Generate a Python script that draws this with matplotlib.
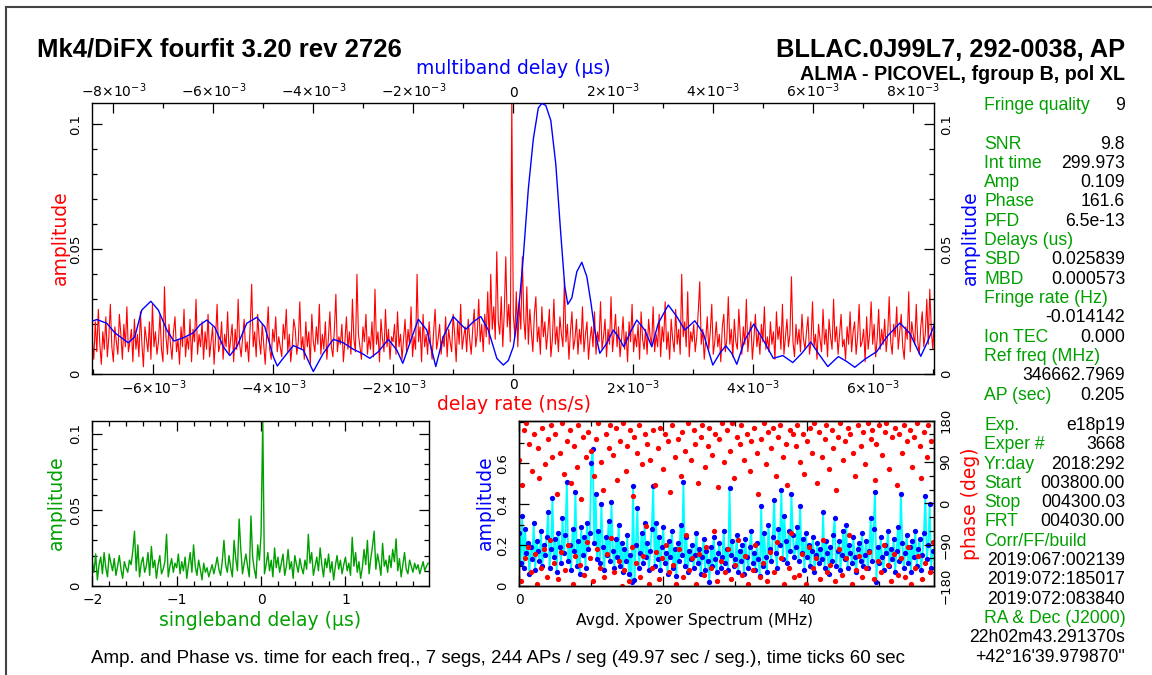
import numpy as np
import matplotlib
matplotlib.use("Agg")
import matplotlib.pyplot as plt
from matplotlib.ticker import FixedLocator, MultipleLocator, FuncFormatter
from matplotlib.lines import Line2D

# ------------------------------------------------------------------ data
# Delay-rate amplitude spectrum, units of 1e-3, evenly spaced across the rate window
rate_amp_milli = [
    14, 6, 21, 9, 26, 12, 4, 17, 10, 23, 7, 15, 28, 11, 5, 19, 13, 8, 24, 16, 6, 20, 11, 27, 9,
    13, 18, 5, 22, 10, 16, 7, 25, 12, 3, 19, 14, 9, 21, 6, 28, 11, 17, 8, 13, 24, 10, 5, 35, 15,
    8, 20, 12, 6, 17, 23, 9, 14, 4, 19, 11, 26, 7, 15, 10, 22, 5, 18, 13, 30, 8, 16, 11, 21, 6,
    17, 10, 24, 7, 13, 19, 4, 15, 28, 9, 12, 21, 6, 16, 11, 25, 8, 14, 20, 5, 18, 10, 30, 12, 7,
    15, 22, 9, 13, 5, 19, 36, 11, 17, 7, 24, 14, 8, 20, 12, 4, 16, 27, 10, 6, 18, 13, 23, 9, 15,
    11, 7, 20, 14, 26, 9, 16, 5, 12, 22, 18, 8, 13, 29, 10, 15, 6, 21, 11, 17, 4, 24, 13, 9, 19,
    12, 28, 8, 16, 10, 21, 6, 14, 25, 11, 7, 18, 32, 9, 15, 12, 20, 5, 13, 23, 10, 17, 8, 30, 14,
    9, 40, 16, 11, 6, 19, 13, 24, 8, 15, 10, 21, 7, 34, 12, 17, 5, 22, 14, 9, 26, 11, 18, 6, 15,
    13, 20, 8, 25, 11, 16, 6, 14, 22, 9, 18, 12, 27, 7, 15, 10, 40, 13, 19, 5, 24, 11, 16, 8, 21,
    12, 6, 17, 26, 10, 14, 20, 8, 15, 11, 23, 7, 18, 13, 9, 24, 16, 5, 21, 12, 28, 10, 15, 19, 9,
    22, 14, 8, 18, 26, 11, 16, 30, 13, 20, 9, 24, 15, 33, 12, 40, 18, 27, 14, 49, 21, 16, 31, 11, 25,
    47, 19, 28, 13, 109, 24, 15, 33, 11, 29, 18, 47, 22, 14, 35, 12, 26, 17, 9, 24, 31, 13, 19, 8, 27,
    15, 21, 10, 17, 26, 7, 14, 30, 12, 19, 9, 23, 16, 11, 38, 13, 20, 6, 17, 25, 10, 14, 22, 8, 18,
    12, 27, 9, 16, 21, 6, 14, 19, 11, 25, 8, 17, 13, 29, 10, 15, 22, 7, 18, 12, 31, 9, 16, 24, 11,
    19, 7, 14, 23, 10, 17, 5, 21, 13, 28, 9, 16, 11, 20, 6, 25, 14, 10, 18, 8, 22, 15, 12, 27, 9,
    16, 11, 24, 7, 19, 13, 29, 10, 17, 6, 22, 14, 9, 26, 12, 18, 8, 40, 15, 21, 11, 33, 7, 17, 13,
    20, 9, 15, 25, 37, 12, 18, 6, 14, 23, 10, 17, 28, 8, 13, 21, 11, 16, 5, 19, 24, 9, 14, 31, 12,
    18, 7, 22, 13, 10, 26, 15, 8, 19, 12, 30, 9, 16, 21, 6, 14, 24, 11, 17, 8, 20, 13, 27, 10, 15,
    9, 21, 12, 17, 6, 25, 14, 19, 10, 28, 8, 15, 22, 11, 16, 39, 13, 7, 20, 12, 18, 9, 24, 14, 10,
    17, 23, 8, 13, 29, 11, 16, 6, 20, 14, 9, 26, 12, 18, 7, 22, 15, 10, 30, 13, 19, 8, 16, 24, 11,
    14, 6, 19, 12, 25, 9, 17, 21, 8, 15, 28, 11, 13, 18, 5, 23, 10, 16, 29, 12, 20, 7, 14, 26, 10,
    18, 12, 22, 9, 16, 31, 13, 8, 20, 15, 27, 10, 17, 24, 11, 6, 19, 14, 33, 9, 21, 16, 12, 28, 13,
    8, 19, 25, 11, 16, 30, 12, 34, 18, 10, 21,
]
rate_half_window = 7.017e-3     # ns/s
mbd_half_window = 8.42e-3       # us
amp_top = 0.1086

# Multiband delay function: delay in ns, amplitude in units of 1e-3
mbd_ns = [
    -8.40, -8.33, -8.13, -7.97, -7.70, -7.57, -7.43, -7.25, -7.10, -6.93,
    -6.79, -6.60, -6.40, -6.27, -6.13, -5.97, -5.80, -5.67, -5.53, -5.33,
    -5.13, -4.97, -4.80, -4.72, -4.63, -4.40, -4.20, -4.00, -3.80, -3.60,
    -3.40, -3.20, -3.03, -2.87, -2.70, -2.50, -2.33, -2.21, -2.07, -1.90,
    -1.73, -1.55, -1.40, -1.20, -1.07, -0.95, -0.80, -0.65, -0.50, -0.33,
    -0.20, -0.10, 0.00, 0.07, 0.13, 0.20, 0.30, 0.40, 0.50, 0.57,
    0.65, 0.75, 0.85, 0.95, 1.03, 1.09, 1.17, 1.27, 1.37, 1.47,
    1.55, 1.63, 1.73, 1.87, 2.00, 2.10, 2.21, 2.33, 2.47, 2.63,
    2.77, 2.90, 3.10, 3.27, 3.43, 3.63, 3.80, 3.99, 4.13, 4.25,
    4.37, 4.47, 4.63, 4.81, 5.00, 5.20, 5.39, 5.59, 5.77, 5.95,
    6.10, 6.29, 6.50, 6.67, 6.83, 7.03, 7.27, 7.47, 7.73, 7.93,
    8.15, 8.30, 8.42,
]
mbd_amp_milli = [
    21.4, 21.9, 20.4, 16.6, 12.6, 15.0, 25.7, 29.2, 25.7, 17.7,
    13.3, 14.6, 16.6, 19.7, 21.7, 18.8, 11.0, 7.5, 11.0, 20.4,
    22.8, 19.0, 7.0, 3.3, 5.7, 11.5, 9.7, 1.1, 8.4, 14.0,
    12.6, 10.0, 8.4, 6.4, 9.0, 14.0, 9.7, 4.4, 12.4, 22.0,
    17.7, 3.1, 15.0, 23.1, 20.4, 18.0, 21.0, 23.1, 17.7, 6.4,
    3.7, 5.5, 11.0, 20.4, 31.0, 47.0, 74.0, 94.0, 106.5, 108.3,
    107.5, 101.5, 84.0, 56.0, 35.0, 28.0, 30.5, 41.0, 44.8, 39.1,
    29.0, 17.5, 8.4, 12.4, 17.7, 15.0, 11.0, 16.4, 21.7, 17.7,
    11.0, 20.4, 27.7, 23.1, 17.7, 21.4, 16.4, 3.7, 8.4, 11.4,
    8.4, 4.0, 13.7, 20.1, 13.7, 6.4, 7.5, 4.7, 8.4, 12.9,
    8.4, 3.1, 7.1, 5.1, 2.8, 6.0, 9.1, 15.0, 20.5, 16.4,
    7.2, 13.7, 19.7,
]

# Singleband delay function, units of 1e-3, from -2 us in steps of 0.02 us
sbd_amp_milli = [
    16, 9, 21, 4, 14, 19, 8, 22, 12, 6, 21, 15, 10, 18, 7, 13, 20, 11, 5, 16, 12, 9, 17, 14, 23,
    36, 10, 27, 6, 15, 19, 9, 13, 22, 7, 26, 12, 17, 5, 14, 20, 8, 11, 16, 34, 6, 13, 18, 9, 15,
    12, 21, 8, 16, 10, 19, 5, 14, 22, 9, 27, 13, 7, 17, 11, 4, 15, 9, 12, 6, 10, 14, 8, 13, 19,
    11, 7, 16, 30, 14, 9, 20, 12, 6, 30, 18, 10, 44, 24, 8, 15, 21, 13, 6, 46, 19, 11, 5, 27, 17,
    34, 109, 8, 14, 22, 10, 17, 6, 25, 12, 19, 9, 15, 21, 7, 13, 24, 11, 16, 5, 20, 14, 9, 18, 12,
    8, 17, 11, 34, 15, 22, 7, 13, 19, 10, 25, 14, 6, 18, 12, 21, 9, 16, 4, 13, 20, 11, 17, 8, 14,
    19, 10, 15, 7, 32, 13, 22, 9, 16, 5, 12, 24, 14, 30, 8, 18, 26, 36, 11, 21, 15, 7, 28, 13, 17,
    9, 20, 12, 24, 16, 31, 10, 18, 6, 14, 22, 11, 8, 17, 13, 9, 15, 11, 14, 8, 12, 16, 10, 13, 15,
]
sbd_start_us = -2.0
sbd_step_us = 0.02

# Averaged cross-power spectrum: amplitude (units of 0.01) and phase (deg), 0.2 MHz channels
xp_amp_pct = [
    26, 11, 34, 9, 28, 16, 21, 6, 19, 13, 31, 8, 22, 17, 12, 27, 10, 20, 15, 24, 36, 9, 18, 43,
    14, 23, 7, 26, 19, 11, 33, 16, 25, 51, 12, 20, 8, 28, 17, 46, 10, 22, 6, 29, 15, 24, 9, 31,
    18, 26, 60, 67, 21, 45, 13, 27, 11, 40, 19, 8, 24, 15, 32, 12, 41, 17, 9, 23, 14, 30, 10, 21,
    7, 18, 12, 25, 6, 15, 2, 49, 3, 20, 38, 9, 16, 26, 11, 31, 14, 21, 8, 17, 28, 49, 10, 31,
    13, 24, 8, 19, 29, 11, 16, 6, 22, 14, 27, 9, 18, 5, 21, 12, 30, 15, 51, 10, 24, 7, 17, 13,
    20, 9, 15, 26, 11, 18, 6, 14, 23, 8, 17, 12, 2, 19, 10, 24, 13, 7, 16, 21, 9, 14, 27, 11,
    18, 8, 48, 15, 22, 10, 13, 25, 7, 17, 12, 20, 6, 23, 14, 9, 19, 27, 11, 16, 8, 21, 13, 5,
    39, 10, 26, 14, 7, 30, 18, 12, 24, 42, 16, 9, 28, 20, 47, 13, 34, 22, 11, 27, 17, 45, 25, 14,
    19, 29, 12, 39, 16, 23, 8, 26, 14, 20, 10, 17, 24, 7, 15, 21, 11, 18, 13, 36, 9, 22, 16, 6,
    19, 12, 25, 33, 10, 17, 22, 8, 15, 27, 13, 30, 9, 20, 16, 11, 24, 14, 7, 18, 21, 12, 26, 10,
    15, 22, 9, 17, 33, 12, 28, 46, 2, 19, 11, 24, 14, 8, 20, 16, 27, 10, 18, 13, 23, 7, 17, 29,
    12, 45, 21, 9, 16, 25, 11, 19, 7, 22, 14, 27, 10, 18, 23, 8, 15, 26, 44, 13, 20, 40, 9, 17,
]
xp_phase_deg = [
    95, -170, 40, 160, -120, 175, -95, 130, -150, 70, 150, -110, -175, 120, 55, -140, 165, -100, 85, -160, 140, -80, 170, 100,
    -130, 150, 20, -165, 110, -105, 175, 65, -145, 135, -90, 160, 45, -175, 125, -115, 80, 170, -135, 10, 145, -155, 100, -85,
    155, -120, 115, -170, 60, 140, -100, 175, -140, 90, 30, -160, 150, -110, 120, 170, -75, 105, -150, 165, 50, -125, 135, -180,
    175, -145, 70, 125, -170, 160, -95, 15, 145, -130, 110, 170, -160, 85, -115, 150, -50, 130, -175, 95, -140, 160, 40, -105,
    120, -165, 165, -120, 75, 150, -90, 135, -150, 25, 170, -135, 100, -175, 140, -100, 60, 155, -160, 115, -70, 175, -145, 95,
    -120, 160, 130, -175, 45, -110, 145, 170, -155, 80, -95, 125, 165, -140, 105, -60, 150, -170, 35, 140, -125, 175, 90, -150,
    160, -100, 115, -165, 175, 55, -135, 145, -80, 130, 170, -155, 95, -115, 150, -175, 70, 135, -145, 165, -90, 110, 20, -160,
    140, -130, 175, 85, -170, 155, -105, 120, 165, -150, 60, -85, 145, 170, -120, 100, -175, 130, 40, -140, 160, -65, 150, -160,
    125, 170, -155, 90, -110, 150, 65, -175, 135, -95, 165, 110, -140, 175, -120, 45, 155, -165, 100, -80, 140, 170, -150, 75,
    -135, 160, 120, -170, 30, 145, -100, 175, -155, 95, 135, -120, 165, -70, 150, -175, 110, 60, -145, 170, -115, 125, -160, 155,
    85, -140, 175, -105, 140, 160, -165, 50, 130, -125, 170, -150, 105, -90, 155, 175, -135, 75, -170, 145, -110, 165, 40, -155,
    150, -120, 110, 170, -160, 135, -95, 160, -175, 80, 145, -140, 175, -115, 125, 55, -165, 155, -130, 100, 170, -150, 135, -85,
]
xp_step_mhz = 0.2
xp_max_mhz = 57.6
xp_amp_top = 0.808

# Fit summary: (label, value) per line; two blocks
summary_block1 = [
    ("Fringe quality", "9"), None,
    ("SNR", "9.8"), ("Int time", "299.973"), ("Amp", "0.109"), ("Phase", "161.6"),
    ("PFD", "6.5e-13"), ("Delays (us)", ""), ("SBD", "0.025839"), ("MBD", "0.000573"),
    ("Fringe rate (Hz)", ""), ("", "-0.014142"), ("Ion TEC", "0.000"),
    ("Ref freq (MHz)", ""), ("", "346662.7969"), ("AP (sec)", "0.205"),
]
summary_block2 = [
    ("Exp.", "e18p19"), ("Exper #", "3668"), ("Yr:day", "2018:292"),
    ("Start", "003800.00"), ("Stop", "004300.03"), ("FRT", "004030.00"),
    ("Corr/FF/build", ""), ("", "2019:067:002139"), ("", "2019:072:185017"),
    ("", "2019:072:083840"), ("RA & Dec (J2000)", ""), ("", "22h02m43.291370s"),
    ("", "+42\u00b016'39.979870\""),
]

# ------------------------------------------------------------------ figure
W, H = 1152, 675
fig = plt.figure(figsize=(W / 100, H / 100), dpi=100)
fig.patch.set_facecolor("white")

RED, BLUE, GREEN, CYAN = "#ff0000", "#0000ff", "#00a000", "#00ffff"
TXT = "Liberation Sans"
XTICK_FS = 10
YTICK_FS = 9.5
LAB_FS = 13.5


def rect(x0, y0, x1, y1):
    return [x0 / W, 1 - y1 / H, (x1 - x0) / W, (y1 - y0) / H]


def fx(x):
    return x / W


def fy(y):
    return 1 - y / H


def plain(v, pos):
    s = "%.3g" % v
    if s in ("-0", "0.0", "-0.0"):
        s = "0"
    return s.replace("-", "\u2212")


def sci(v, pos):
    k = int(round(v * 1e3))
    return "0" if k == 0 else r"$%d{\times}10^{-3}$" % k


def base_style(ax):
    ax.tick_params(which="both", direction="in", width=0.9)
    ax.tick_params(axis="x", labelsize=XTICK_FS)
    ax.tick_params(axis="y", labelsize=YTICK_FS)
    ax.tick_params(which="major", length=7)
    ax.tick_params(which="minor", length=3.5)
    for s in ax.spines.values():
        s.set_linewidth(1.0)


def rotate_y(ax, side):
    for lab in ax.get_yticklabels():
        lab.set_rotation(90)
        lab.set_verticalalignment("center")
        lab.set_horizontalalignment("right" if side == "left" else "left")


# ---- main panel: delay rate (red, bottom/left) + multiband delay (blue, top/right)
main_rect = rect(92.3, 102.7, 934.3, 374.3)
ax_r = fig.add_axes(main_rect)
rate_amp = np.array(rate_amp_milli) * 1e-3
rate_x = np.linspace(-rate_half_window, rate_half_window, len(rate_amp))
ax_r.plot(rate_x, rate_amp, color=RED, lw=0.8)
ax_r.set_xlim(-rate_half_window, rate_half_window)
ax_r.set_ylim(0, amp_top)
base_style(ax_r)
ax_r.xaxis.set_major_locator(MultipleLocator(2e-3))
ax_r.xaxis.set_minor_locator(MultipleLocator(1e-3))
ax_r.xaxis.set_major_formatter(FuncFormatter(sci))
ax_r.yaxis.set_major_locator(FixedLocator([0, 0.05, 0.1]))
ax_r.yaxis.set_minor_locator(MultipleLocator(0.01))
ax_r.yaxis.set_major_formatter(FuncFormatter(plain))
ax_r.tick_params(which="both", top=False, right=False)
ax_r.tick_params(axis="x", pad=3)
ax_r.tick_params(axis="y", pad=7)
rotate_y(ax_r, "left")

ax_m = fig.add_axes(main_rect, frameon=False)
ax_m.patch.set_visible(False)
ax_m.plot(np.array(mbd_ns) * 1e-3, np.array(mbd_amp_milli) * 1e-3, color=BLUE, lw=1.0)
ax_m.set_xlim(-mbd_half_window, mbd_half_window)
ax_m.set_ylim(0, amp_top)
base_style(ax_m)
ax_m.xaxis.tick_top()
ax_m.yaxis.tick_right()
ax_m.xaxis.set_major_locator(MultipleLocator(2e-3))
ax_m.xaxis.set_minor_locator(MultipleLocator(1e-3))
ax_m.xaxis.set_major_formatter(FuncFormatter(sci))
ax_m.yaxis.set_major_locator(FixedLocator([0, 0.05, 0.1]))
ax_m.yaxis.set_minor_locator(MultipleLocator(0.01))
ax_m.yaxis.set_major_formatter(FuncFormatter(plain))
ax_m.tick_params(axis="x", pad=2)
ax_m.tick_params(axis="y", pad=4)
rotate_y(ax_m, "right")

# ---- singleband delay panel
ax_s = fig.add_axes(rect(92.3, 420.7, 429.0, 586.0))
sbd_amp = np.array(sbd_amp_milli) * 1e-3
sbd_x = sbd_start_us + sbd_step_us * np.arange(len(sbd_amp))
ax_s.plot(sbd_x, sbd_amp, color=GREEN, lw=1.0)
ax_s.set_xlim(-2.0, 1.99)
ax_s.set_ylim(0, amp_top)
base_style(ax_s)
ax_s.tick_params(which="both", top=True, right=True)
ax_s.xaxis.set_major_locator(MultipleLocator(1))
ax_s.xaxis.set_minor_locator(MultipleLocator(0.2))
ax_s.xaxis.set_major_formatter(FuncFormatter(plain))
ax_s.yaxis.set_major_locator(FixedLocator([0, 0.05, 0.1]))
ax_s.yaxis.set_minor_locator(MultipleLocator(0.01))
ax_s.yaxis.set_major_formatter(FuncFormatter(plain))
ax_s.tick_params(axis="x", pad=5)
ax_s.tick_params(axis="y", pad=7)
rotate_y(ax_s, "left")

# ---- cross-power spectrum panel
ax_x = fig.add_axes(rect(519.3, 420.7, 934.0, 586.0))
xp_amp = np.array(xp_amp_pct) * 0.01
xp_f = xp_step_mhz * np.arange(len(xp_amp))
ax_x.plot(xp_f, xp_amp, color=CYAN, lw=1.3, zorder=1)
ax_x.plot(xp_f, xp_amp, "o", color=BLUE, ms=3.8, mew=0, zorder=2)
ax_x.set_xlim(0, xp_max_mhz)
ax_x.set_ylim(0, xp_amp_top)
base_style(ax_x)
ax_x.tick_params(which="both", top=True, right=False)
ax_x.xaxis.set_major_locator(MultipleLocator(20))
ax_x.xaxis.set_minor_locator(MultipleLocator(10))
ax_x.xaxis.set_major_formatter(FuncFormatter(plain))
ax_x.yaxis.set_major_locator(FixedLocator([0, 0.2, 0.4, 0.6]))
ax_x.yaxis.set_minor_locator(MultipleLocator(0.1))
ax_x.yaxis.set_major_formatter(FuncFormatter(plain))
ax_x.tick_params(axis="x", pad=5)
ax_x.tick_params(axis="y", pad=7)
rotate_y(ax_x, "left")

ax_p = ax_x.twinx()
xp_ph = np.array(xp_phase_deg, dtype=float)
ax_p.plot(xp_step_mhz * np.arange(len(xp_ph)), xp_ph, "o", color=RED, ms=3.8, mew=0)
ax_p.set_xlim(0, xp_max_mhz)
ax_p.set_ylim(-180, 180)
base_style(ax_p)
ax_p.yaxis.set_major_locator(FixedLocator([-180, -90, 0, 90, 180]))
ax_p.yaxis.set_minor_locator(MultipleLocator(30))
ax_p.yaxis.set_major_formatter(FuncFormatter(plain))
ax_p.tick_params(axis="y", pad=4)
rotate_y(ax_p, "right")

# ---- axis titles
lab = dict(family="DejaVu Sans", size=LAB_FS, ha="center", va="center")
fig.text(fx(60), fy(238), "amplitude", color=RED, rotation=90, **lab)
fig.text(fx(970), fy(238), "amplitude", color=BLUE, rotation=90, **lab)
fig.text(fx(514), fy(404), "delay rate (ns/s)", color=RED, **lab)
fig.text(fx(513), fy(68), "multiband delay (\u03bcs)", color=BLUE, **lab)
fig.text(fx(56), fy(503), "amplitude", color=GREEN, rotation=90, **lab)
fig.text(fx(260), fy(620), "singleband delay (\u03bcs)", color=GREEN, **lab)
fig.text(fx(485), fy(503), "amplitude", color=BLUE, rotation=90, **lab)
fig.text(fx(694), fy(620), "Avgd. Xpower Spectrum (MHz)", color="black",
         family="DejaVu Sans", size=11.2, ha="center", va="center")
fig.text(fx(970), fy(504), "phase (deg)", color=RED, rotation=90, **lab)

# ---- headers
fig.text(fx(37), fy(56.7), "Mk4/DiFX fourfit 3.20 rev 2726", family=TXT,
         weight="bold", size=18.5, ha="left", va="baseline")
fig.text(fx(1125), fy(57), "BLLAC.0J99L7, 292-0038, AP", family=TXT,
         weight="bold", size=18.3, ha="right", va="baseline")
fig.text(fx(1125), fy(79.5), "ALMA - PICOVEL, fgroup B, pol XL", family=TXT,
         weight="bold", size=14.2, ha="right", va="baseline")


# ---- fit summary column
def summary(rows, y0, dy=19.3):
    for i, row in enumerate(rows):
        if row is None:
            continue
        name, val = row
        y = fy(y0 + i * dy)
        if name:
            fig.text(fx(984), y, name, color=GREEN, family=TXT, size=12.7,
                     ha="left", va="baseline")
        if val:
            fig.text(fx(1125), y, val, color="black", family=TXT, size=12.7,
                     ha="right", va="baseline")


summary(summary_block1, 110.0)
summary(summary_block2, 430.0)

fig.text(fx(91), fy(663), "Amp. and Phase vs. time for each freq., 7 segs, 244 APs / seg "
         "(49.97 sec / seg.), time ticks 60 sec", family=TXT, size=13.5,
         ha="left", va="baseline")

# ---- page frame
fig.add_artist(Line2D([fx(6), fx(6)], [0, fy(7)], color="#444444", lw=1.5))
fig.add_artist(Line2D([fx(6), 1], [fy(7), fy(7)], color="#444444", lw=1.5))

fig.savefig("out.png", dpi=100, facecolor="white")
